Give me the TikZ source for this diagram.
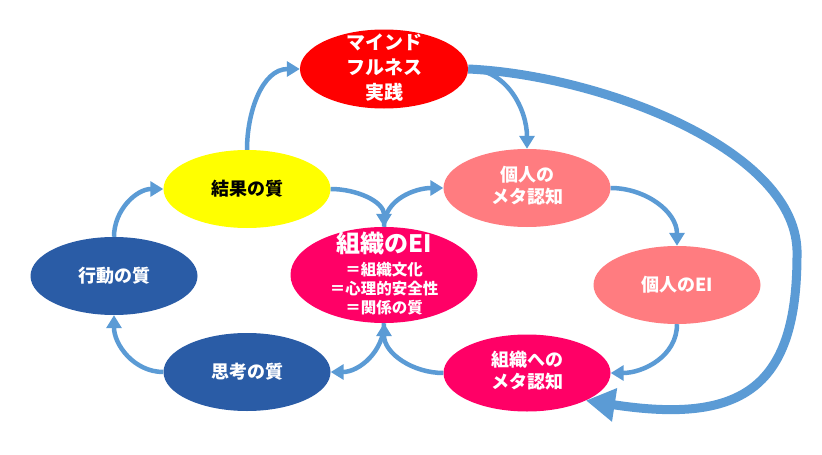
\documentclass[tikz,border=0pt]{standalone}
\usepackage{fontspec}
\setmainfont{Noto Sans CJK JP}
\usetikzlibrary{shapes.geometric,arrows.meta}
\definecolor{arrowblue}{HTML}{5B9BD5}
\definecolor{mred}{HTML}{FF0000}
\definecolor{myel}{HTML}{FFFF00}
\definecolor{dblue}{HTML}{2A5CA6}
\definecolor{mag}{HTML}{FF0066}
\definecolor{salmon}{HTML}{FF7C80}
\newcommand\ctrtext[1]{\vbox to 0pt{\vss\hbox{\begin{tabular}{@{}c@{}}#1\end{tabular}}\vss}}
\begin{document}
\begin{tikzpicture}[x=1pt,y=1pt,
  bub/.style={ellipse, inner sep=0pt, minimum width=167pt, minimum height=78pt,
    text=white, font=\fontsize{18}{21}\selectfont\bfseries},
  flow/.style={draw=arrowblue, line width=4.5pt, -{Triangle[length=13pt,width=15pt]}},
  bigflow/.style={draw=arrowblue, line width=9pt, -{Triangle[length=29pt,width=32pt]}}]
\useasboundingbox (0,0) rectangle (822,-455);
\fill[white] (0,0) rectangle (822,-455);
\node[bub, fill=mred, minimum width=168pt, minimum height=79pt,
  font=\fontsize{19}{25}\selectfont\bfseries] (mf) at (384,-69) {\ctrtext{マインド\\フルネス\\実践}};
\node[bub, fill=myel, text=black] (kekka) at (247,-189) {結果の質};
\node[bub, fill=dblue] (kodo) at (114,-276) {行動の質};
\node[bub, fill=dblue] (shiko) at (247,-372) {思考の質};
\node[bub, fill=mag, minimum width=187pt, minimum height=96pt,
  font=\fontsize{15.5}{18}\selectfont\bfseries] (soei) at (384,-275)
  {\ctrtext{{\fontsize{24}{26}\selectfont 組織のEI}\\[5pt]＝組織文化\\＝心理的安全性\\＝関係の質}};
\node[bub, fill=salmon] (kometa) at (527,-188) {\ctrtext{個人の\\メタ認知}};
\node[bub, fill=salmon] (koei) at (677,-285) {個人のEI};
\node[bub, fill=mag, minimum height=77pt] (someta) at (527,-373) {\ctrtext{組織への\\メタ認知}};

\draw[flow] (kodo.north) to[out=90,in=180] (kekka.west);
\draw[flow] (kekka.north) to[out=90,in=180] (mf.west);
\draw[flow] (kekka.east) to[out=0,in=90] (soei.north);
\draw[flow] (soei.north) to[out=90,in=180] (kometa.west);
\draw[flow] (mf.east) to[out=0,in=90] (kometa.north);
\draw[flow] (kometa.east) to[out=0,in=90] (koei.north);
\draw[flow] (koei.south) to[out=-90,in=0] (someta.east);
\draw[flow] (someta.west) to[out=180,in=-90] (soei.south);
\draw[flow] (soei.south) to[out=-90,in=0] (shiko.east);
\draw[flow] (shiko.west) to[out=180,in=-90] (kodo.south);
\draw[bigflow] (mf.east) .. controls (600,-75) and (800,-150) .. (797,-255)
  .. controls (797,-385) and (745,-425) .. (someta.-25);
\end{tikzpicture}
\end{document}
